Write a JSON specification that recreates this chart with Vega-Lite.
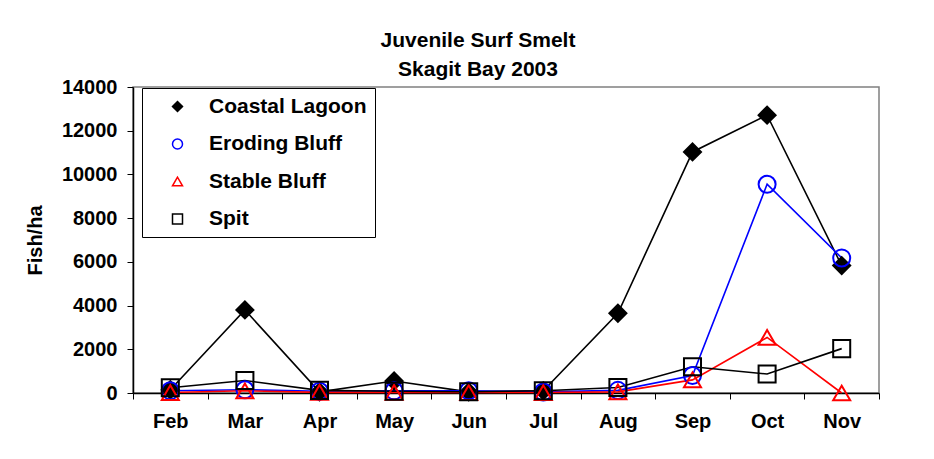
{
  "$schema": "https://vega.github.io/schema/vega-lite/v6.json",
  "width": 746,
  "height": 306,
  "autosize": {"type": "none"},
  "padding": {"left": 133, "top": 87, "right": 55, "bottom": 66},
  "background": "white",
  "config": {
    "view": {"stroke": "#808080", "strokeWidth": 1.5},
    "font": "Liberation Sans"
  },
  "title": {
    "text": ["Juvenile Surf Smelt", "Skagit Bay 2003"],
    "font": "Liberation Sans",
    "fontSize": 21,
    "fontWeight": "bold",
    "lineHeight": 29,
    "anchor": "middle",
    "dx": -28,
    "offset": -3,
    "color": "black"
  },
  "data": {
    "values": [
      {"month": "Feb", "series": "Coastal Lagoon", "value": 150},
      {"month": "Mar", "series": "Coastal Lagoon", "value": 3800},
      {"month": "Apr", "series": "Coastal Lagoon", "value": 50},
      {"month": "May", "series": "Coastal Lagoon", "value": 550},
      {"month": "Jun", "series": "Coastal Lagoon", "value": 50},
      {"month": "Jul", "series": "Coastal Lagoon", "value": 100},
      {"month": "Aug", "series": "Coastal Lagoon", "value": 3650},
      {"month": "Sep", "series": "Coastal Lagoon", "value": 11030},
      {"month": "Oct", "series": "Coastal Lagoon", "value": 12710},
      {"month": "Nov", "series": "Coastal Lagoon", "value": 5830},
      {"month": "Feb", "series": "Eroding Bluff", "value": 100},
      {"month": "Mar", "series": "Eroding Bluff", "value": 150},
      {"month": "Apr", "series": "Eroding Bluff", "value": 80},
      {"month": "May", "series": "Eroding Bluff", "value": 100},
      {"month": "Jun", "series": "Eroding Bluff", "value": 100},
      {"month": "Jul", "series": "Eroding Bluff", "value": 50},
      {"month": "Aug", "series": "Eroding Bluff", "value": 120},
      {"month": "Sep", "series": "Eroding Bluff", "value": 800},
      {"month": "Oct", "series": "Eroding Bluff", "value": 9550},
      {"month": "Nov", "series": "Eroding Bluff", "value": 6180},
      {"month": "Feb", "series": "Stable Bluff", "value": 20},
      {"month": "Mar", "series": "Stable Bluff", "value": 100},
      {"month": "Apr", "series": "Stable Bluff", "value": 30},
      {"month": "May", "series": "Stable Bluff", "value": 30},
      {"month": "Jun", "series": "Stable Bluff", "value": 20},
      {"month": "Jul", "series": "Stable Bluff", "value": 20},
      {"month": "Aug", "series": "Stable Bluff", "value": 50},
      {"month": "Sep", "series": "Stable Bluff", "value": 600},
      {"month": "Oct", "series": "Stable Bluff", "value": 2540},
      {"month": "Nov", "series": "Stable Bluff", "value": 0},
      {"month": "Feb", "series": "Spit", "value": 240},
      {"month": "Mar", "series": "Spit", "value": 570},
      {"month": "Apr", "series": "Spit", "value": 120},
      {"month": "May", "series": "Spit", "value": 80},
      {"month": "Jun", "series": "Spit", "value": 60},
      {"month": "Jul", "series": "Spit", "value": 100},
      {"month": "Aug", "series": "Spit", "value": 250},
      {"month": "Sep", "series": "Spit", "value": 1200},
      {"month": "Oct", "series": "Spit", "value": 870},
      {"month": "Nov", "series": "Spit", "value": 2030}
    ]
  },
  "encoding": {
    "x": {
      "field": "month",
      "type": "ordinal",
      "sort": ["Feb", "Mar", "Apr", "May", "Jun", "Jul", "Aug", "Sep", "Oct", "Nov"],
      "bandPosition": 0.5,
      "scale": {"type": "band", "paddingInner": 0, "paddingOuter": 0},
      "axis": {
        "title": null,
        "labelAngle": 0,
        "tickBand": "extent",
        "labelFont": "Liberation Sans",
        "labelFontSize": 20,
        "labelFontWeight": "bold",
        "labelColor": "black",
        "labelPadding": 12,
        "tickSize": 6,
        "tickColor": "black",
        "domainColor": "black",
        "domainWidth": 1.5,
        "tickWidth": 1,
        "grid": false
      }
    },
    "y": {
      "field": "value",
      "type": "quantitative",
      "scale": {"domain": [0, 14000], "nice": false},
      "axis": {
        "title": "Fish/ha",
        "titleFont": "Liberation Sans",
        "titleFontSize": 20,
        "titleFontWeight": "bold",
        "titleColor": "black",
        "titlePadding": 16,
        "values": [0, 2000, 4000, 6000, 8000, 10000, 12000, 14000],
        "format": "d",
        "labelFont": "Liberation Sans",
        "labelFontSize": 20,
        "labelFontWeight": "bold",
        "labelColor": "black",
        "labelPadding": 10,
        "tickSize": 6,
        "tickColor": "black",
        "domainColor": "black",
        "domainWidth": 1.5,
        "grid": false
      }
    },
    "color": {
      "field": "series",
      "type": "nominal",
      "scale": {
        "domain": ["Coastal Lagoon", "Eroding Bluff", "Stable Bluff", "Spit"],
        "range": ["#000000", "#0000FF", "#FF0000", "#000000"]
      },
      "legend": {
        "title": null,
        "orient": "none",
        "legendX": 9,
        "legendY": 1,
        "strokeColor": "black",
        "fillColor": "white",
        "padding": 8,
        "labelFont": "Liberation Sans",
        "labelFontSize": 21,
        "labelFontWeight": "bold",
        "labelColor": "black",
        "symbolOffset": 17,
        "labelOffset": 21,
        "rowPadding": 15.5,
        "symbolSize": 100,
        "symbolStrokeWidth": 1.5
      }
    }
  },
  "layer": [
    {
      "mark": {"type": "line", "strokeWidth": 1.6}
    },
    {
      "mark": {"type": "point", "filled": false, "strokeWidth": 2, "opacity": 1, "size": 290},
      "encoding": {
        "shape": {
          "field": "series",
          "type": "nominal",
          "scale": {
            "domain": ["Coastal Lagoon", "Eroding Bluff", "Stable Bluff", "Spit"],
            "range": ["diamond", "circle", "triangle-up", "square"]
          }
        },
        "fill": {
          "field": "series",
          "type": "nominal",
          "scale": {
            "domain": ["Coastal Lagoon", "Eroding Bluff", "Stable Bluff", "Spit"],
            "range": ["#000000", "transparent", "transparent", "transparent"]
          }
        }
      }
    }
  ]
}
